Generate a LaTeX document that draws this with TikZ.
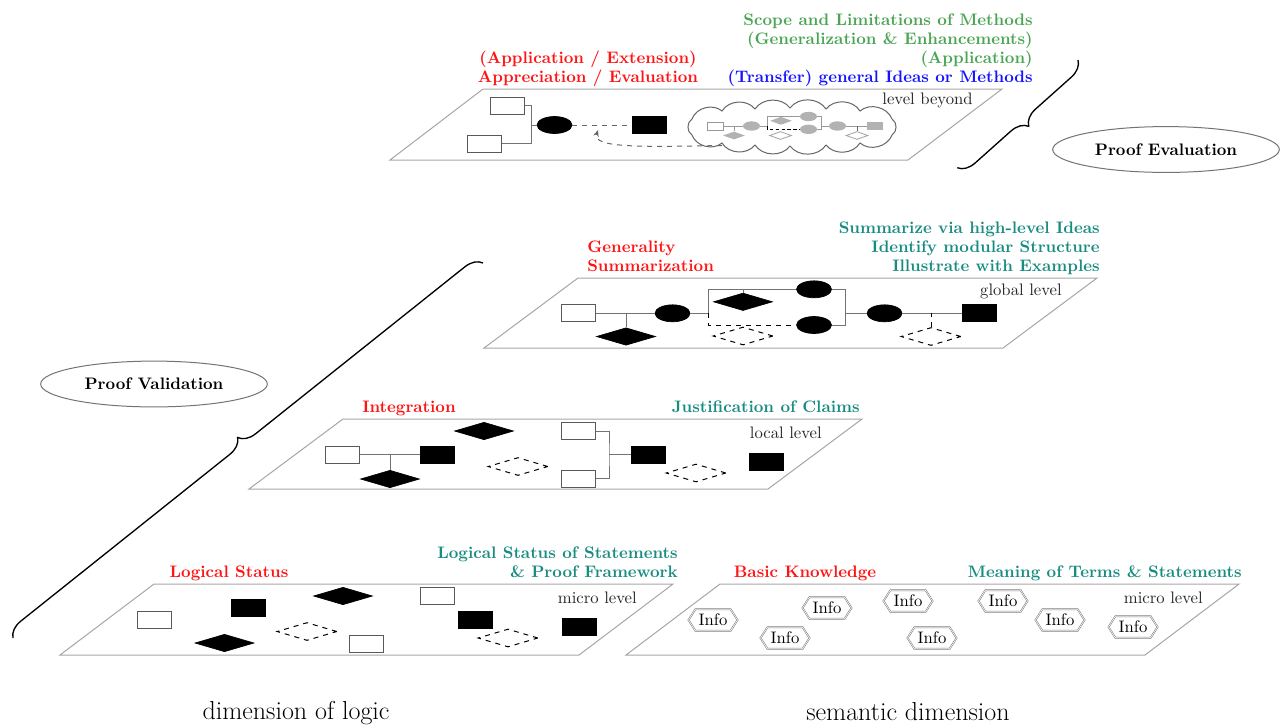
\documentclass[tikz,border=0pt]{standalone}
\usetikzlibrary{shapes.geometric,shapes.symbols,decorations.pathreplacing,arrows.meta}
\definecolor{tealtxt}{RGB}{25,140,130}
\definecolor{greentxt}{RGB}{75,165,85}
\definecolor{redtxt}{RGB}{255,20,20}
\definecolor{bluetxt}{RGB}{20,20,255}
\begin{document}
\begin{tikzpicture}[x=0.6pt,y=-0.6pt,
  plane/.style={draw=black!35, line width=0.6pt},
  conn/.style={draw=black!55, line width=0.6pt},
  dconn/.style={draw=black, dashed, line width=0.6pt},
  gdash/.style={draw=black!60, dashed, line width=0.6pt},
  cloudline/.style={draw=black!60, line width=0.6pt, fill=white},
  wbox/.style={rectangle, draw=black!65, fill=white, line width=0.6pt, minimum width=20.4pt, minimum height=10.2pt, inner sep=0pt},
  bbox/.style={rectangle, draw=black, fill=black, minimum width=20.4pt, minimum height=10.2pt, inner sep=0pt},
  bell/.style={ellipse, draw=black, fill=black, minimum width=21pt, minimum height=10.2pt, inner sep=0pt},
  bdia/.style={diamond, draw=black, fill=black, aspect=3.4, minimum width=35.4pt, minimum height=10.5pt, inner sep=0pt},
  ddia/.style={diamond, draw=black, dashed, line width=0.6pt, aspect=3.4, minimum width=36pt, minimum height=10.8pt, inner sep=0pt},
  % small grey copies inside the cloud
  swbox/.style={rectangle, draw=black!40, fill=white, line width=0.5pt, minimum width=9.6pt, minimum height=4.8pt, inner sep=0pt},
  sgbox/.style={rectangle, fill=black!30, minimum width=9.6pt, minimum height=4.8pt, inner sep=0pt},
  sgell/.style={ellipse, fill=black!30, minimum width=10.2pt, minimum height=5.6pt, inner sep=0pt},
  sgdia/.style={diamond, fill=black!30, aspect=3, minimum width=13.2pt, minimum height=4.8pt, inner sep=0pt},
  swdia/.style={diamond, draw=black!35, fill=white, line width=0.5pt, aspect=3, minimum width=13.2pt, minimum height=4.8pt, inner sep=0pt},
  sconn/.style={draw=black!40, line width=0.5pt},
  info/.style={signal, signal to=west and east, signal pointer angle=115, draw=black!50, double=white, double distance=0.35pt, line width=0.35pt, inner xsep=2pt, inner ysep=1.2pt, minimum height=12.8pt},
  lab/.style={font=\bfseries, inner sep=0pt},
  lvl/.style={inner sep=0pt, anchor=base east, text=black!85},
  phase/.style={ellipse, draw=black!55, line width=0.6pt, font=\bfseries, minimum width=136pt, minimum height=27.5pt, inner sep=0pt},
  dimlab/.style={font=\fontsize{15.6}{18}\selectfont, inner sep=0pt, anchor=base},
  bracedec/.style={decorate, decoration={brace, amplitude=10pt}, line width=0.8pt}
]
\useasboundingbox (0,0) rectangle (1283,726);

% ---------------- level beyond ----------------
\draw[plane] (483,89) -- (1002,89) -- (908,160) -- (390,160) -- cycle;
\node[lab, anchor=base east, text=greentxt] at (1033,25) {Scope and Limitations of Methods};
\node[lab, anchor=base east, text=greentxt] at (1033,44) {(Generalization \& Enhancements)};
\node[lab, anchor=base east, text=greentxt] at (1033,63) {(Application)};
\node[lab, anchor=base east, text=bluetxt] at (1033,82) {(Transfer) general Ideas or Methods};
\node[lab, anchor=base, text=redtxt] at (588,63) {(Application / Extension)};
\node[lab, anchor=base, text=redtxt] at (588,82) {Appreciation / Evaluation};
\node[lvl] at (973,104) {level beyond};

\node[wbox] (t1) at (507.5,105.5) {};
\node[wbox] (t2) at (484,143.5) {};
\coordinate (tj) at (531.7,125);
\node[bell] (t3) at (554.5,125) {};
\node[bbox] (t4) at (649,125) {};
\draw[conn] (t1) -| (tj) |- (t2);
\draw[conn] (tj) -- (t3);
\draw[gdash] (t3) -- (t4);

% the cloud: a ring of puffs drawn clockwise
\draw[cloudline] (692,119) to[bend left=55] (722,111) to[bend left=55] (755,109)
  to[bend left=55] (790,108) to[bend left=55] (826,109) to[bend left=55] (860,111)
  to[bend left=55] (892,119) to[bend left=60] (892,135) to[bend left=55] (860,143)
  to[bend left=55] (826,145) to[bend left=55] (790,146) to[bend left=55] (755,145)
  to[bend left=55] (722,143) to[bend left=55] (692,135) to[bend left=60] cycle;
\coordinate (arrS) at (722,145.5);
\coordinate (arrE) at (598,130);
\draw[gdash, -{Stealth[length=4pt,width=3.4pt]}] (arrS) .. controls (640,147) and (592,148) .. (arrE);

% condensed proof structure inside the cloud
\node[swbox] (c1) at (715,126) {};
\node[sgell] (c2) at (751.5,126) {};
\node[sgdia] (cd1) at (734,135.5) {};
\coordinate (cjL) at (767.3,126);
\node[sgell] (c3) at (808.5,116.5) {};
\node[sgdia] (cd2) at (781,120.8) {};
\node[sgell] (c4) at (808.5,129.3) {};
\node[swdia] (cd3) at (780.5,135.5) {};
\coordinate (cjR) at (821.7,126);
\node[sgell] (c5) at (837.5,126) {};
\node[sgbox] (c6) at (875,126) {};
\node[swdia] (cd4) at (857,135.5) {};
\draw[sconn] (c1) -- (c2);
\draw[sconn] (cd1.north) -- (cd1.north |- c1);
\draw[sconn] (c2) -- (cjL);
\draw[sconn] (cjL) |- (c3);
\draw[draw=black, dashed, dash pattern=on 2pt off 1.5pt, line width=0.6pt] (cjL) |- (c4);
\draw[sconn] (c3) -| (cjR) |- (c4);
\draw[sconn] (cjR) -- (c5);
\draw[sconn] (c5) -- (c6);
\draw[draw=black!60, line width=0.5pt] (cd4.north) -- (cd4.north |- c5);

% ---------------- global level ----------------
\draw[plane] (578,278) -- (1097,278) -- (1003,348) -- (484,348) -- cycle;
\node[lab, anchor=base east, text=tealtxt] at (1100,233) {Summarize via high-level Ideas};
\node[lab, anchor=base east, text=tealtxt] at (1100,252) {Identify modular Structure};
\node[lab, anchor=base east, text=tealtxt] at (1100,271) {Illustrate with Examples};
\node[lab, anchor=base west, text=redtxt] at (587,252) {Generality};
\node[lab, anchor=base west, text=redtxt] at (587,271) {Summarization};
\node[lvl] at (1062,295) {global level};

\node[wbox] (g1) at (578.3,313.3) {};
\node[bell] (g2) at (672.5,313.3) {};
\node[bdia] (gd1) at (626,336.5) {};
\coordinate (jL) at (708,313.3);
\node[bell] (g3) at (814,289.3) {};
\node[bdia] (gd2) at (743,301.8) {};
\node[bell] (g4) at (814,325) {};
\node[ddia] (gd3) at (743,336) {};
\coordinate (jR) at (845,313.3);
\node[bell] (g5) at (884.5,313.3) {};
\node[bbox] (g6) at (979,313.3) {};
\node[ddia] (gd4) at (931,336.5) {};
\draw[conn] (g1) -- (g2);
\draw[conn] (gd1.north) -- (gd1.north |- g1);
\draw[conn] (g2) -- (jL);
\draw[conn] (jL) |- (g3);
\draw[dconn] (jL) |- (g4);
\draw[conn] (gd2.north) -- (gd2.north |- g3);
\draw[conn] (g3) -| (jR) |- (g4);
\draw[conn] (jR) -- (g5);
\draw[conn] (g5) -- (g6);
\draw[dconn] (gd4.north) -- (gd4.north |- g5);

% ---------------- local level ----------------
\draw[plane] (343,419) -- (862,419) -- (768,489) -- (249,489) -- cycle;
\node[lab, anchor=base, text=redtxt] at (409,412) {Integration};
\node[lab, anchor=base east, text=tealtxt] at (860,412) {Justification of Claims};
\node[lvl] at (822,438) {local level};

\node[wbox] (l1) at (342,454.5) {};
\node[bbox] (l2) at (437,454.5) {};
\node[bdia] (ld1) at (390,479) {};
\draw[conn] (l1) -- (l2);
\draw[conn] (ld1.north) -- (ld1.north |- l1);
\node[bdia] (ld2) at (484,431) {};
\node[ddia] (ld3) at (518,466.5) {};
\node[wbox] (l3) at (578,431) {};
\node[wbox] (l4) at (578,478.5) {};
\coordinate (jl) at (609,454.5);
\node[bbox] (l5) at (648.6,454.5) {};
\draw[conn] (l3) -| (jl) |- (l4);
\draw[conn] (jl) -- (l5);
\node[ddia] (ld4) at (696,473) {};
\node[bbox] (l6) at (766,462) {};

% ---------------- micro level (logic) ----------------
\draw[plane] (154,584) -- (673,584) -- (579,655) -- (60,655) -- cycle;
\node[lab, anchor=base east, text=tealtxt] at (678,558) {Logical Status of Statements};
\node[lab, anchor=base east, text=tealtxt] at (678,577) {\& Proof Framework};
\node[lab, anchor=base, text=redtxt] at (229,577) {Logical Status};
\node[lvl] at (637,603) {micro level};

\node[wbox] (m1) at (154,619.5) {};
\node[bbox] (m2) at (248.5,608) {};
\node[bdia] (md1) at (343,596) {};
\node[bdia] (md2) at (224.5,643) {};
\node[ddia] (md3) at (307,631.5) {};
\node[wbox] (m3) at (366,643.5) {};
\node[wbox] (m4) at (437,596) {};
\node[bbox] (m5) at (475,619.5) {};
\node[ddia] (md4) at (508,638) {};
\node[bbox] (m6) at (579,627) {};

% ---------------- micro level (semantics) ----------------
\draw[plane] (720,584) -- (1239,584) -- (1145,655) -- (626,655) -- cycle;
\node[lab, anchor=base, text=redtxt] at (805,577) {Basic Knowledge};
\node[lab, anchor=base east, text=tealtxt] at (1242,577) {Meaning of Terms \& Statements};
\node[lvl] at (1203,603) {micro level};

\node[info] (i1) at (713,620) {Info};
\node[info] (i2) at (827,608) {Info};
\node[info] (i3) at (908,601) {Info};
\node[info] (i4) at (1003,601) {Info};
\node[info] (i5) at (1060,620) {Info};
\node[info] (i6) at (1133,627) {Info};
\node[info] (i7) at (785,638) {Info};
\node[info] (i8) at (932,638) {Info};

% ---------------- phases and braces ----------------
\node[phase] (pe) at (1166,149.5) {Proof Evaluation};
\node[phase] (pv) at (154,384) {Proof Validation};
\coordinate (bE1) at (1078,60);
\coordinate (bE2) at (957,168);
\draw[bracedec] (bE1) -- (bE2);
\coordinate (bV1) at (13,638);
\coordinate (bV2) at (483,263);
\draw[bracedec] (bV1) -- (bV2);

% ---------------- dimensions ----------------
\node[dimlab] at (296,719) {dimension of logic};
\node[dimlab] at (908,720) {semantic dimension};
\end{tikzpicture}
\end{document}
